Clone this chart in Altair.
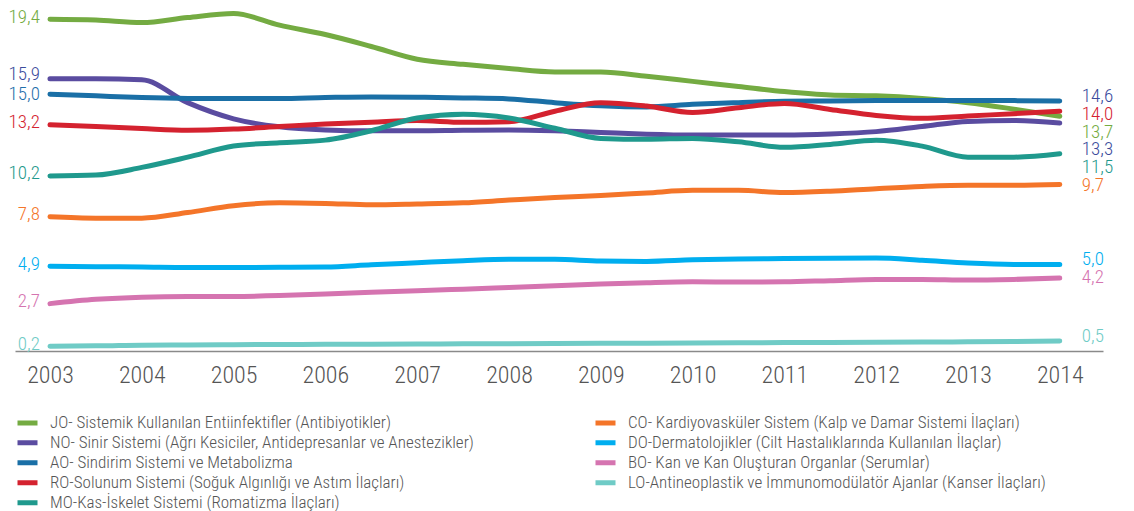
import altair as alt
import pandas as pd

# Half-year sampling positions (years)
years = [2003.0, 2003.5, 2004.0, 2004.5, 2005.0, 2005.5, 2006.0, 2006.5, 2007.0, 2007.5,
         2008.0, 2008.5, 2009.0, 2009.5, 2010.0, 2010.5, 2011.0, 2011.5, 2012.0, 2012.5,
         2013.0, 2013.5, 2014.0]

J0 = [19.4, 19.35, 19.2, 19.5, 19.73, 19.05, 18.5, 17.8, 17.05, 16.75, 16.5, 16.3, 16.3, 16.05,
      15.75, 15.45, 15.15, 14.95, 14.9, 14.75, 14.5, 14.12, 13.7]
N0 = [15.9, 15.9, 15.85, 14.5, 13.55, 13.08, 12.9, 12.85, 12.85, 12.88, 12.9, 12.85, 12.75, 12.65,
      12.6, 12.6, 12.6, 12.66, 12.8, 13.1, 13.4, 13.45, 13.3]
A0 = [15.0, 14.9, 14.8, 14.75, 14.74, 14.74, 14.8, 14.84, 14.82, 14.78, 14.72, 14.5, 14.32, 14.25,
      14.4, 14.5, 14.58, 14.6, 14.62, 14.62, 14.62, 14.62, 14.6]
R0 = [13.2, 13.1, 12.98, 12.88, 12.95, 13.1, 13.25, 13.35, 13.45, 13.35, 13.38, 14.0, 14.5, 14.3,
      13.92, 14.2, 14.45, 14.1, 13.75, 13.58, 13.72, 13.85, 14.0]
M0 = [10.2, 10.25, 10.7, 11.3, 11.95, 12.15, 12.3, 12.85, 13.6, 13.82, 13.6, 13.0, 12.4, 12.35,
      12.4, 12.2, 11.88, 12.05, 12.3, 11.95, 11.3, 11.3, 11.5]
C0 = [7.8, 7.72, 7.72, 8.05, 8.45, 8.62, 8.58, 8.5, 8.55, 8.62, 8.78, 8.93, 9.05, 9.2,
      9.35, 9.35, 9.22, 9.3, 9.45, 9.58, 9.65, 9.65, 9.7]
D0 = [4.9, 4.87, 4.85, 4.82, 4.82, 4.83, 4.85, 4.98, 5.1, 5.22, 5.3, 5.3, 5.2, 5.18,
      5.27, 5.32, 5.35, 5.37, 5.38, 5.25, 5.08, 5.0, 5.0]
B0 = [2.7, 2.95, 3.08, 3.12, 3.12, 3.17, 3.27, 3.37, 3.45, 3.55, 3.65, 3.75, 3.85, 3.93,
      3.98, 3.97, 3.98, 4.05, 4.12, 4.12, 4.08, 4.12, 4.2]
L0 = [0.2, 0.22, 0.25, 0.27, 0.29, 0.3, 0.31, 0.32, 0.33, 0.34, 0.35, 0.36, 0.37, 0.38,
      0.39, 0.4, 0.41, 0.42, 0.43, 0.44, 0.46, 0.48, 0.5]

series_names = [
    "JO- Sistemik Kullanılan Entiinfektifler (Antibiyotikler)",
    "NO- Sinir Sistemi (Ağrı Kesiciler, Antidepresanlar ve Anestezikler)",
    "AO- Sindirim Sistemi ve Metabolizma",
    "RO-Solunum Sistemi (Soğuk Algınlığı ve Astım İlaçları)",
    "MO-Kas-İskelet Sistemi (Romatizma İlaçları)",
    "CO- Kardiyovasküler Sistem (Kalp ve Damar Sistemi İlaçları)",
    "DO-Dermatolojikler (Cilt Hastalıklarında Kullanılan İlaçlar)",
    "BO- Kan ve Kan Oluşturan Organlar (Serumlar)",
    "LO-Antineoplastik ve İmmunomodülatör Ajanlar (Kanser İlaçları)",
]
series_values = [J0, N0, A0, R0, M0, C0, D0, B0, L0]
line_colors = ["#74ab42", "#5a4ca0", "#1a6fa6", "#d4222f", "#1f998d",
               "#f47529", "#00aeef", "#d574b0", "#6fcbc6"]
left_label_colors = ["#74ab42", "#3b4b9c", "#1f6fab", "#d4222f", "#1f998d",
                     "#f47529", "#00aeef", "#d574b0", "#6fcbc6"]
right_label_colors = ["#74ab42", "#3b4b9c", "#3b4b9c", "#d4222f", "#1f998d",
                      "#f47529", "#00aeef", "#d574b0", "#6fcbc6"]

# legend order (row-major in 2 columns -> left column J,N,A,R,M ; right column C,D,B,L)
legend_order = [series_names[i] for i in [0, 5, 1, 6, 2, 7, 3, 8, 4]]

rows = []
for name, vals in zip(series_names, series_values):
    for y, v in zip(years, vals):
        rows.append({"series": name, "year": y, "value": v})
df = pd.DataFrame(rows)


def fmt(v):
    return f"{v:.1f}".replace(".", ",")


# left labels: nudged up a little, close pairs pushed apart symmetrically
start_vals = [vals[0] for vals in series_values]
lpos = [v + 0.15 for v in start_vals]
lorder = sorted(range(len(lpos)), key=lambda i: -lpos[i])
for a, b in zip(lorder, lorder[1:]):
    gap = lpos[a] - lpos[b]
    if gap < 1.2:
        push = (1.2 - gap) / 2
        lpos[a] += push
        lpos[b] -= push
left_df = pd.DataFrame({
    "year": [years[0]] * len(series_names),
    "value": lpos,
    "label": [fmt(v) for v in start_vals],
    "col": left_label_colors,
})

# right labels: stacked downward to avoid overlap
end_vals = [vals[-1] for vals in series_values]
order_idx = sorted(range(len(end_vals)), key=lambda i: -end_vals[i])
pos = {}
prev = None
for i in order_idx:
    p = end_vals[i] + 0.3
    if prev is not None:
        p = min(p, prev - 1.05)
    pos[i] = p
    prev = p
right_df = pd.DataFrame({
    "year": [years[-1]] * len(series_names),
    "value": [pos[i] for i in range(len(series_names))],
    "label": [fmt(v) for v in end_vals],
    "col": right_label_colors,
})

NUM_FONT = "Roboto Condensed, Liberation Sans Narrow, Roboto, sans-serif"

xscale = alt.Scale(domain=[2002.619, 2014.471], nice=False, zero=False)
yscale = alt.Scale(domain=[-0.082, 20], nice=False, zero=False)

lines = alt.Chart(df).mark_line(
    strokeWidth=5, strokeCap="round", strokeJoin="round", interpolate="monotone"
).encode(
    x=alt.X("year:Q", scale=xscale,
            axis=alt.Axis(values=list(range(2003, 2015)), format="d", title=None,
                          grid=False, ticks=False, labelFontSize=24, labelFont=NUM_FONT,
                          labelFontWeight=300,
                          labelColor="#555555", domainColor="#8a8a8a", domainWidth=1.5,
                          labelPadding=12)),
    y=alt.Y("value:Q", scale=yscale, axis=None),
    color=alt.Color("series:N",
                    scale=alt.Scale(domain=series_names, range=line_colors),
                    sort=legend_order,
                    legend=alt.Legend(title=None, orient="none", legendX=0, legendY=404,
                                      columns=2, columnPadding=119, rowPadding=0,
                                      clipHeight=19.5,
                                      symbolType="stroke", symbolStrokeWidth=5, symbolSize=400,
                                      labelFontSize=17, labelFont=NUM_FONT, labelFontWeight=300,
                                      labelColor="#555555",
                                      labelOffset=10, labelLimit=600)),
)

left_text = alt.Chart(left_df).mark_text(
    align="right", baseline="middle", dx=-10, fontSize=19, font=NUM_FONT, fontWeight=300
).encode(
    x=alt.X("year:Q", scale=xscale),
    y=alt.Y("value:Q", scale=yscale),
    text="label:N",
    color=alt.Color("col:N", scale=None),
)

right_text = alt.Chart(right_df).mark_text(
    align="left", baseline="middle", dx=22, fontSize=19, font=NUM_FONT, fontWeight=300
).encode(
    x=alt.X("year:Q", scale=xscale),
    y=alt.Y("value:Q", scale=yscale),
    text="label:N",
    color=alt.Color("col:N", scale=None),
)

chart = alt.layer(lines, left_text, right_text).properties(
    width=1088, height=342,
    autosize=alt.AutoSizeParams(type="none"),
    padding={"left": 7, "top": 1, "right": 20, "bottom": 160},
    background="white",
).configure_view(stroke=None)

chart.save("out.html", embed_options={"renderer": "svg", "actions": False})
